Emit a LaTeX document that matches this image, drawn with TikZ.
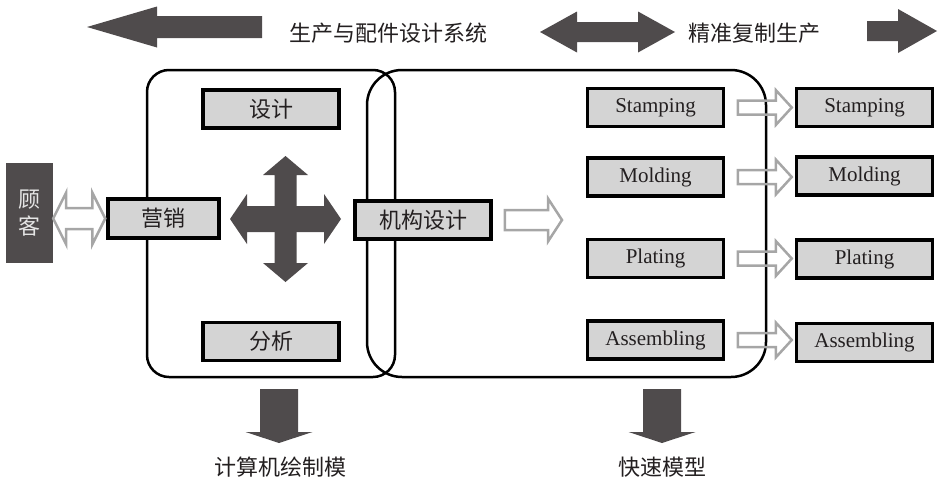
\documentclass[tikz,border=0pt]{standalone}
\usepackage{fontspec}
\setmainfont{Liberation Serif}
\newfontfamily\cjk{Noto Sans CJK SC}
\usetikzlibrary{calc}
\definecolor{arrowdark}{HTML}{4F4B4C}
\definecolor{boxfill}{HTML}{D4D4D4}
\definecolor{hollowgray}{HTML}{A6A6A6}
\definecolor{inkblack}{HTML}{231F20}

\tikzset{
  % one headed block arrow, head at the target
  harrow/.style n args={3}{to path={let \p1=(\tikztostart), \p2=(\tikztotarget) in
    ({\x1},{\y1+#1}) -- ({\x2-(#3)},{\y1+#1}) -- ({\x2-(#3)},{\y1+#2}) -- ({\x2},{\y1})
    -- ({\x2-(#3)},{\y1-#2}) -- ({\x2-(#3)},{\y1-#1}) -- ({\x1},{\y1-#1}) -- cycle}},
  % two headed block arrow, left to right
  hdarrow/.style n args={3}{to path={let \p1=(\tikztostart), \p2=(\tikztotarget) in
    ({\x1},{\y1}) -- ({\x1+#3},{\y1+#2}) -- ({\x1+#3},{\y1+#1}) -- ({\x2-#3},{\y1+#1}) -- ({\x2-#3},{\y1+#2})
    -- ({\x2},{\y1}) -- ({\x2-#3},{\y1-#2}) -- ({\x2-#3},{\y1-#1}) -- ({\x1+#3},{\y1-#1}) -- ({\x1+#3},{\y1-#2}) -- cycle}},
  % two headed block arrow, top to bottom
  vdarrow/.style n args={3}{to path={let \p1=(\tikztostart), \p2=(\tikztotarget) in
    ({\x1},{\y1}) -- ({\x1+#2},{\y1-#3}) -- ({\x1+#1},{\y1-#3}) -- ({\x1+#1},{\y2+#3}) -- ({\x1+#2},{\y2+#3})
    -- ({\x1},{\y2}) -- ({\x1-#2},{\y2+#3}) -- ({\x1-#1},{\y2+#3}) -- ({\x1-#1},{\y1-#3}) -- ({\x1-#2},{\y1-#3}) -- cycle}},
  % one headed block arrow pointing down
  varrow/.style n args={3}{to path={let \p1=(\tikztostart), \p2=(\tikztotarget) in
    ({\x1+#1},{\y1}) -- ({\x1+#1},{\y2+#3}) -- ({\x1+#2},{\y2+#3}) -- ({\x1},{\y2})
    -- ({\x1-#2},{\y2+#3}) -- ({\x1-#1},{\y2+#3}) -- ({\x1-#1},{\y1}) -- cycle}}
}

\begin{document}
\begin{tikzpicture}[x=1pt,y=-1pt,
    box/.style={draw=black,line width=3.5pt,fill=boxfill,text=inkblack,
      minimum width=136pt,minimum height=38pt,inner sep=0pt,
      font=\fontsize{21}{21}\selectfont},
    cbox/.style={box,font=\cjk\fontsize{22}{22}\selectfont},
    cjktext/.style={inner sep=0pt,text=inkblack,font=\cjk\fontsize{22}{22}\selectfont},
    grp/.style={draw=black,line width=2.5pt,rounded corners=#1},
    darkarrow/.style={fill=arrowdark},
    hollowarrow/.style={draw=hollowgray,line width=2.5pt}]
    \useasboundingbox (0,0) rectangle (939,480);

    % top line
    \coordinate (sysA) at (262,27);
    \coordinate (sysB) at (87,27);
    \coordinate (repA) at (540,32);
    \coordinate (repB) at (675,32);
    \coordinate (outA) at (867,31);
    \coordinate (outB) at (937,31);
    \fill[darkarrow] (sysA) to[harrow={11pt}{20.5pt}{-70pt}] (sysB);
    \fill[darkarrow] (repA) to[hdarrow={10pt}{20.5pt}{37pt}] (repB);
    \fill[darkarrow] (outA) to[harrow={10pt}{22pt}{39pt}] (outB);
    \node[cjktext] (sys) at (388,33) {生产与配件设计系统};
    \node[cjktext] (rep) at (754,33) {精准复制生产};

    % the two groups
    \draw[grp=22pt] (147,70) rectangle (395,377);
    \draw[grp=35pt] (367,70) rectangle (766,377);

    % customer and design loop
    \node[fill=arrowdark,minimum width=47pt,minimum height=100pt,inner sep=0pt,
      text=white!90!black,align=center,font=\cjk\fontsize{22}{27}\selectfont]
      (customer) at (29.5,213) {顾\\客};
    \node[cbox,minimum width=111pt,minimum height=39pt] (market) at (163.5,218.5) {营销};
    \node[cbox] (design) at (271,109) {设计};
    \node[cbox] (analysis) at (271,341.5) {分析};
    \node[cbox] (mech) at (423,220) {机构设计};

    \draw[hollowarrow] (customer.east |- market.west) to[hdarrow={10.5pt}{26pt}{13pt}] ([xshift=-1pt]market.west);

    \coordinate (crossL) at (230,219);
    \coordinate (crossR) at (341,219);
    \coordinate (crossT) at (285.5,156);
    \coordinate (crossB) at (285.5,282);
    \fill[darkarrow] (crossL) to[hdarrow={13pt}{25pt}{17pt}] (crossR);
    \fill[darkarrow] (crossT) to[vdarrow={11pt}{22.5pt}{19pt}] (crossB);

    \coordinate (mechTip) at (562,220);
    \draw[hollowarrow] ([xshift=12pt]mech.east) to[harrow={10pt}{21.5pt}{14pt}] (mechTip);

    % processes
    \node[box] (stampA) at (655.5,107.5) {Stamping};
    \node[box] (moldA) at (655.5,177) {Molding};
    \node[box] (plateA) at (655.5,258.5) {Plating};
    \node[box] (assemA) at (655.5,340) {Assembling};
    \node[box] (stampB) at (864.5,107.5) {Stamping};
    \node[box] (moldB) at (864.5,176) {Molding};
    \node[box] (plateB) at (864.5,259) {Plating};
    \node[box] (assemB) at (864.5,342.5) {Assembling};

    \draw[hollowarrow] ([xshift=12.5pt]stampA.east) to[harrow={7pt}{17.5pt}{16pt}] ([xshift=-3pt]stampB.west);
    \draw[hollowarrow] ([xshift=12.5pt]moldA.east) to[harrow={7pt}{17.5pt}{16pt}] ([xshift=-3pt]moldB.west);
    \draw[hollowarrow] ([xshift=12.5pt]plateA.east) to[harrow={7pt}{17.5pt}{16pt}] ([xshift=-3pt]plateB.west);
    \draw[hollowarrow] ([xshift=12.5pt]assemA.east) to[harrow={7pt}{17.5pt}{16pt}] ([xshift=-3pt]assemB.west);

    % outputs
    \coordinate (cadA) at (279,389);
    \coordinate (cadB) at (279,443);
    \coordinate (rpA) at (662,389);
    \coordinate (rpB) at (662,443);
    \fill[darkarrow] (cadA) to[varrow={19pt}{33.5pt}{11pt}] (cadB);
    \fill[darkarrow] (rpA) to[varrow={19pt}{33.5pt}{11pt}] (rpB);
    \node[cjktext] (cad) at (280,467) {计算机绘制模};
    \node[cjktext] (rp) at (662,467) {快速模型};
\end{tikzpicture}
\end{document}
